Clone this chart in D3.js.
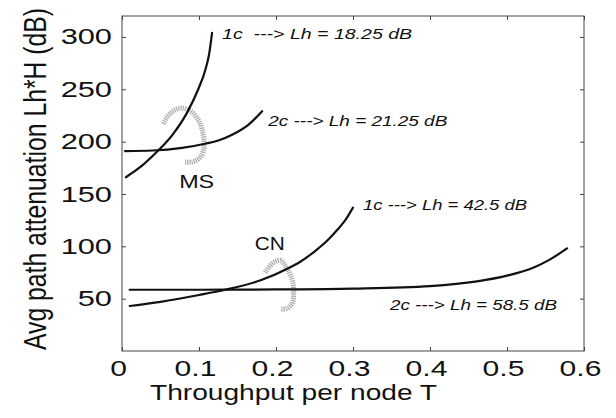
<!DOCTYPE html>
<html>
<head>
<meta charset="utf-8">
<script src="https://d3js.org/d3.v7.min.js"></script>
<style>
  body { margin: 0; background: #fff; }
  text { font-family: "Liberation Sans", Arial, sans-serif; fill: #111; }
  .note { font-style: italic; font-size: 15px; white-space: pre; }
  .curve { fill: none; stroke: #111; stroke-width: 2.2; stroke-linecap: round; }
  .turn { fill: none; stroke: #a8a8a8; stroke-width: 5; stroke-dasharray: 1.2 1; }
  .frame { fill: none; stroke: #444; stroke-width: 1; }
</style>
</head>
<body>
<svg width="616" height="418"></svg>
<script>
// axis ticks
const xTicks = [0, 0.1, 0.2, 0.3, 0.4, 0.5, 0.6];
const yTicks = [50, 100, 150, 200, 250, 300];

// curves: [throughput T, Lh*H in dB]
const ms1c = [[0.005, 166], [0.026, 177], [0.045, 190], [0.065, 206], [0.084, 227], [0.099, 250], [0.108, 268], [0.113, 283], [0.117, 304]];
const ms2c = [[0.004, 191], [0.04, 191.5], [0.078, 194], [0.108, 198], [0.125, 201], [0.143, 206.5], [0.164, 216], [0.182, 229]];
const cn1c = [[0.01, 43], [0.05, 47], [0.1, 53.5], [0.134, 58.5], [0.18, 67.5], [0.216, 79], [0.231, 85], [0.25, 95], [0.266, 105], [0.28, 116], [0.29, 125], [0.3, 137]];
const cn2c = [[0.01, 58.5], [0.1, 58.5], [0.2, 58.8], [0.3, 59.6], [0.4, 62], [0.461, 66.5], [0.5, 72], [0.534, 79.5], [0.556, 87.5], [0.578, 98]];

// dotted turn arrows
const msTurn = [[0.054, 217], [0.058, 223], [0.068, 230], [0.078, 232], [0.091, 228], [0.101, 218], [0.106, 204], [0.106, 192], [0.101, 184.5], [0.091, 180.5], [0.082, 180.5]];
const cnTurn = [[0.186, 75], [0.19, 79.5], [0.198, 85], [0.206, 86.5], [0.215, 78], [0.221, 68], [0.223, 56.5], [0.221, 45.5], [0.214, 40.5], [0.206, 40]];

// text labels: [text, T, V, width]
const notes = [
  ["1c  ---> Lh = 18.25 dB", 0.13, 298.5, 190],
  ["2c ---> Lh = 21.25 dB", 0.19, 214.5, 179],
  ["1c ---> Lh = 42.5 dB", 0.313, 135, 164],
  ["2c ---> Lh = 58.5 dB", 0.348, 39, 167]
];
const groupLabels = [["MS", 0.097, 156, 35], ["CN", 0.192, 96.5, 30]];

const svg = d3.select("svg");
const x = d3.scaleLinear().domain([0, 0.6]).range([122, 584]);
const y = d3.scaleLinear().domain([0, 320]).range([351, 16]);
const sx = 1.4; // the picture is stretched sideways

const line = d3.line().x(d => x(d[0])).y(d => y(d[1])).curve(d3.curveMonotoneX);
const loop = d3.line().x(d => x(d[0])).y(d => y(d[1])).curve(d3.curveCatmullRom);

// axes with inward ticks
const bottom = svg.append("g").attr("transform", `translate(0,${y(0)})`)
  .call(d3.axisBottom(x).tickValues(xTicks).tickSize(-4).tickSizeOuter(0).tickPadding(10).tickFormat(d => d === 0 ? "0" : d3.format(".1f")(d)));
bottom.selectAll("text").attr("font-size", 21.5).attr("x", -4 / sx).attr("transform", `scale(${sx},1)`);

const left = svg.append("g").attr("transform", `translate(${x(0)},0)`)
  .call(d3.axisLeft(y).tickValues(yTicks).tickSize(-4).tickSizeOuter(0).tickPadding(10));
left.selectAll("text").attr("font-size", 22).attr("x", -10 / sx).attr("transform", `scale(${sx},1)`);

svg.append("g").attr("transform", `translate(0,${y(320)})`)
  .call(d3.axisTop(x).tickValues(xTicks).tickSize(-4).tickSizeOuter(0).tickFormat(""));
svg.append("g").attr("transform", `translate(${x(0.6)},0)`)
  .call(d3.axisRight(y).tickValues(yTicks).tickSize(-4).tickSizeOuter(0).tickFormat(""));

svg.selectAll(".domain").remove();
svg.selectAll(".tick line").attr("stroke", "#444");

svg.append("rect").attr("class", "frame")
  .attr("x", x(0)).attr("y", y(320))
  .attr("width", x(0.6) - x(0)).attr("height", y(0) - y(320));

// turn arrows under the curves
[msTurn, cnTurn].forEach(t => {
  svg.append("path").datum(t).attr("class", "turn").attr("d", loop);
});

[ms1c, ms2c, cn1c, cn2c].forEach(c => {
  svg.append("path").datum(c).attr("class", "curve").attr("d", line);
});

notes.forEach(n => {
  svg.append("text").attr("class", "note")
    .attr("x", x(n[1])).attr("y", y(n[2]))
    .attr("textLength", n[3]).attr("lengthAdjust", "spacingAndGlyphs")
    .text(n[0]);
});

groupLabels.forEach(g => {
  svg.append("text")
    .attr("x", x(g[1])).attr("y", y(g[2]))
    .attr("text-anchor", "middle").attr("font-size", 19)
    .attr("textLength", g[3]).attr("lengthAdjust", "spacingAndGlyphs")
    .text(g[0]);
});

// axis titles
svg.append("text")
  .attr("x", 293.5).attr("y", 400)
  .attr("text-anchor", "middle").attr("font-size", 22)
  .attr("textLength", 287).attr("lengthAdjust", "spacingAndGlyphs")
  .text("Throughput per node T");

svg.append("text")
  .attr("transform", `translate(46,179) scale(1.3,1) rotate(-90)`)
  .attr("text-anchor", "middle").attr("font-size", 24.5)
  .attr("textLength", 342).attr("lengthAdjust", "spacingAndGlyphs")
  .text("Avg path attenuation Lh*H (dB)");
</script>
</body>
</html>
